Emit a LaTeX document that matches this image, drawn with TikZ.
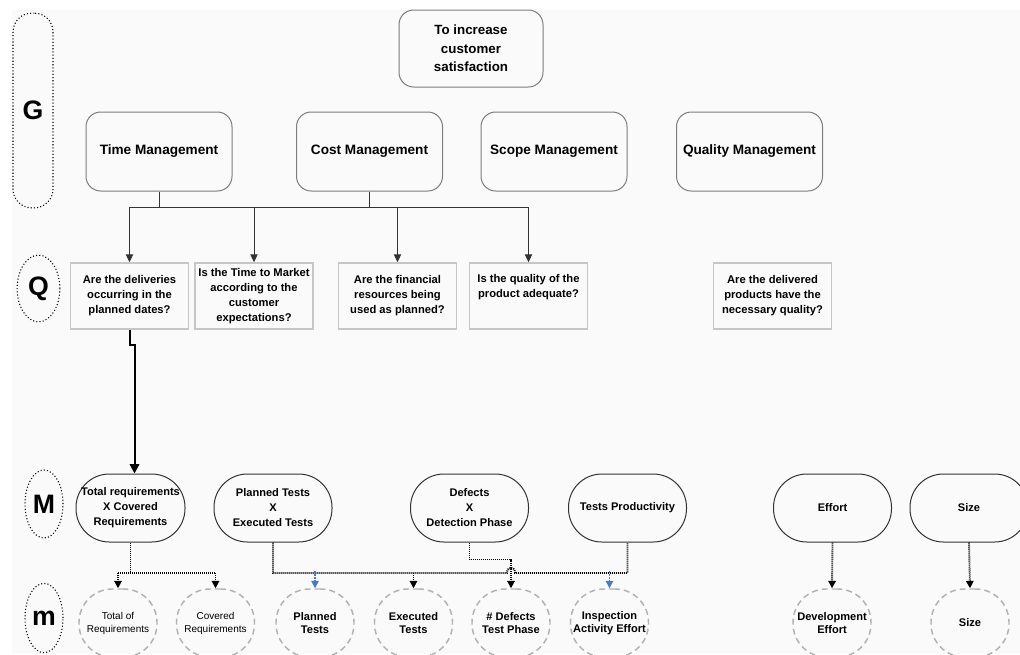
\documentclass[tikz,border=0pt]{standalone}
\usepackage{fontspec}
\setmainfont{Liberation Sans}
\usetikzlibrary{arrows.meta,shapes.geometric}

\definecolor{paper}{RGB}{250,250,250}
\definecolor{goalline}{RGB}{125,125,125}
\definecolor{qline}{RGB}{198,198,198}
\definecolor{mline}{RGB}{178,178,178}
\definecolor{tipblue}{RGB}{70,125,195}

\tikzset{every picture/.style={line width=0.75pt}}
\tikzset{
  goalbox/.style={draw=goalline, rounded corners=11pt, minimum width=109.5pt, minimum height=59.25pt,
    inner sep=0pt, align=center, font=\fontsize{10.2}{13.9}\selectfont\bfseries},
  questbox/.style={draw=qline, line width=1.1pt, minimum width=88.5pt, minimum height=49.5pt,
    inner sep=0pt, align=center, font=\fontsize{8.4}{11.25}\selectfont\bfseries},
  metricbox/.style={draw=black!80, rounded corners=25pt, minimum width=88.5pt, minimum height=51pt,
    inner sep=0pt, align=center, font=\fontsize{8.3}{11.25}\selectfont\bfseries},
  measurebox/.style={draw=mline, line width=1.1pt, dash pattern=on 4.5pt off 3pt, rounded corners=25pt,
    minimum width=58.5pt, minimum height=51pt, inner sep=0pt, align=center,
    font=\fontsize{8.3}{9.75}\selectfont\bfseries},
  plainmeasure/.style={measurebox, font=\fontsize{7.5}{9.75}\selectfont},
  leveltag/.style={draw=black, line width=0.8pt, dash pattern=on 0.8pt off 1.6pt, inner sep=0pt,
    font=\fontsize{20}{24}\selectfont\bfseries},
  qlink/.style={draw=black!80, -{Triangle[length=6pt,width=5.5pt]}},
  mlink/.style={draw=black, line width=1.4pt, dash pattern=on 0.75pt off 0.75pt},
  mtip/.style={mlink, -{Triangle[length=5.5pt,width=5.5pt]}},
  bluetip/.style={draw=tipblue, line width=1pt, dash pattern=on 1.5pt off 0.75pt,
    -{Triangle[length=5.5pt,width=5.5pt]}}
}

\begin{document}
\begin{tikzpicture}[x=0.75pt,y=0.75pt,yscale=-1,xscale=1]
\useasboundingbox (0,0) rectangle (1020,654);
\fill [paper] (12,10) rectangle (1020,654);

% Level tags
\node [leveltag, rounded corners=14pt, minimum width=30pt, minimum height=146pt] (tagG) at (33,110.5) {G};
\node [leveltag, ellipse, minimum width=32pt, minimum height=50pt] (tagQ) at (38.5,288.5) {Q};
\node [leveltag, ellipse, minimum width=28.5pt, minimum height=51pt] (tagM) at (44,504) {M};
\node [leveltag, ellipse, minimum width=28.5pt, minimum height=52pt] (tagm) at (44,618) {m};

% Goals
\node [goalbox, minimum width=108pt, minimum height=57.75pt, font=\fontsize{10}{13.9}\selectfont\bfseries]
  (goal) at (471,48.5) {To increase\\customer\\satisfaction};
\node [goalbox] (time) at (159,151.5) {Time Management};
\node [goalbox] (cost) at (369.5,151.5) {Cost Management};
\node [goalbox] (scope) at (554,151.5) {Scope Management};
\node [goalbox] (quality) at (749.5,151.5) {Quality Management};

% Questions
\node [questbox] (q1) at (129.5,296) {Are the deliveries\\occurring in the\\planned dates?};
\node [questbox] (q2) at (254,296) {Is the Time to Market\\according to the\\customer\\expectations?};
\node [questbox] (q3) at (397.5,296) {Are the financial\\resources being\\used as planned?};
\node [questbox] (q4) at (528.5,296) {Is the quality of the\\product adequate?\\\strut};
\node [questbox] (q5) at (772.5,296) {Are the delivered\\products have the\\necessary quality?};

% Metrics
\node [metricbox, minimum width=81.75pt] (totreq) at (130.5,508) {Total requirements\\X Covered\\Requirements};
\node [metricbox] (plantest) at (273,508) {Planned Tests\\X\\Executed Tests};
\node [metricbox] (defects) at (469.5,508) {Defects\\X\\Detection Phase};
\node [metricbox] (testprod) at (627.5,508) {Tests Productivity};
\node [metricbox] (effort) at (832.5,508) {Effort};
\node [metricbox] (size) at (969,508) {Size};

% Measures
\node [plainmeasure] (totalof) at (118,623) {Total of\\Requirements};
\node [plainmeasure] (covered) at (215.5,623) {Covered\\Requirements};
\node [measurebox] (planned) at (315,623) {Planned\\Tests};
\node [measurebox] (executed) at (413.5,623) {Executed\\Tests};
\node [measurebox] (defphase) at (511,623) {\# Defects\\Test Phase};
\node [measurebox] (inspect) at (609.5,623) {Inspection\\Activity Effort};
\node [measurebox] (develop) at (832,623) {Development\\Effort};
\node [measurebox] (sizem) at (970,623) {Size};

%Goal to question lines
\coordinate (gbusL) at (129.5,207);
\coordinate (gbusR) at (528.5,207);
\draw [draw=black!80] (time.south) -- (time.south |- gbusL);
\draw [draw=black!80] (cost.south) -- (cost.south |- gbusL);
\draw [draw=black!80] (gbusL) -- (gbusR);
\foreach \q in {q1,q2,q3,q4}
  \draw [qlink] (\q.north |- gbusL) -- (\q.north);

%Question to metric line
\draw [line width=1.5pt, -{Triangle[length=7pt,width=7pt]}] (q1.south) -- ++(0,15) -| ([xshift=3pt]totreq.north);

%Metric to measure lines
\coordinate (mbusA) at (118,573);
\coordinate (mbusB) at (215.5,573);
\draw [mlink] (totreq.south) -- (totreq.south |- mbusA);
\draw [mlink] (mbusA) -- (mbusB);
\draw [mtip] (mbusA) -- (totalof.north);
\draw [mtip] (mbusB) -- (covered.north);

\coordinate (tbusL) at (273,573);
\coordinate (tbusR) at (627.5,573);
\draw [mlink] (plantest.south) -- (tbusL) -- (507,573) .. controls (507,566) and (515,566) .. (515,573)
  -- (tbusR) -- (testprod.south);
\draw [bluetip] ([yshift=-1.5pt]planned.north |- tbusL) -- (planned.north);
\draw [mtip] (executed.north |- tbusL) -- (executed.north);
\draw [bluetip] ([yshift=-1.5pt]inspect.north |- tbusL) -- (inspect.north);
\draw [mtip] (defects.south) -- ++(0,17) -| (defphase.north);

\draw [mtip] (effort.south) -- (develop.north);
\draw [mtip] (size.south) -- (sizem.north);

\end{tikzpicture}
\end{document}
